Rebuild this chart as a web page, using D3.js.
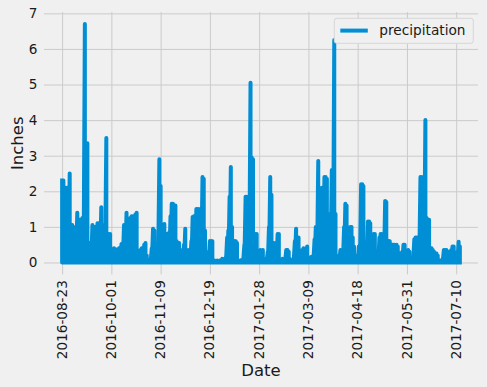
<!DOCTYPE html>
<html>
<head>
<meta charset="utf-8">
<script src="https://cdn.jsdelivr.net/npm/d3@7"></script>
<style>
  body { margin: 0; background: #f0f0f0; }
  text { font-family: "DejaVu Sans", sans-serif; fill: #1a1a1a; }
</style>
</head>
<body>
<div id="my_dataviz"></div>
<script>
// first date of the query window
const startDate = "2016-08-23";

// x tick labels and the dataframe row they sit on
const tickLabels = ["2016-08-23", "2016-10-01", "2016-11-09", "2016-12-19", "2017-01-28",
                    "2017-03-09", "2017-04-18", "2017-05-31", "2017-07-10"];
const tickRows = [0, 250, 500, 750, 1000, 1250, 1500, 1750, 2000];

const yTicks = [0, 1, 2, 3, 4, 5, 6, 7];

// wettest station reading for each day (inches), one value per day from startDate
const dailyMax = [
  2.3, 2.3, 2.1, 2.1, 2.1, 1.0, 2.5, 0.2, 1.05, 1.0,
  0.6, 0.3, 1.4, 0.4, 1.2, 1.2, 1.25, 0.5, 6.7, 0.6,
  3.35, 0.3, 0.55, 0.2, 1.05, 0.4, 1.0, 0.5, 1.1, 1.1,
  1.05, 1.55, 0.5, 1.05, 0.3, 3.5, 0.3, 0.8, 0.8, 0.05,
  0.05, 0.4, 0.38, 0.2, 0.35, 0.4, 0.42, 0.52, 0.3, 1.05,
  0.6, 1.4, 0.75, 0.3, 1.25, 1.3, 1.3, 0.6, 1.35, 1.4,
  0.25, 0.1, 0.35, 0.4, 0.3, 0.5, 0.55, 0.2, 0.05, 0.02,
  0.1, 0.4, 0.95, 0.9, 0.2, 0.45, 0.5, 2.9, 2.15, 1.05,
  1.0, 1.08, 0.6, 0.8, 0.5, 0.85, 1.3, 1.65, 1.65, 1.6,
  1.6, 0.6, 0.3, 0.55, 0.35, 0.1, 0.2, 0.5, 0.95, 0.35,
  0.1, 0.35, 0.2, 0.6, 1.28, 1.3, 0.9, 1.5, 1.5, 1.5,
  1.1, 1.2, 2.4, 2.35, 0.9, 0.1, 0.2, 0.3, 0.6, 0.6,
  0.6, 0.05, 0.05, 0.03, 0.05, 0.04, 0.05, 0.06, 0.1, 0.08,
  0.1, 0.15, 0.7, 0.9, 1.85, 2.68, 1.0, 0.6, 0.6, 0.6,
  0.55, 0.05, 0.04, 0.06, 0.05, 0.1, 0.5, 1.85, 1.85, 0.6,
  1.2, 5.05, 2.95, 2.9, 0.2, 0.8, 0.8, 0.1, 0.05, 0.35,
  0.3, 0.35, 0.1, 0.05, 0.1, 0.3, 1.0, 2.4, 1.9, 0.5,
  0.55, 0.1, 0.1, 0.8, 0.8, 0.05, 0.05, 0.1, 0.08, 0.1,
  0.35, 0.35, 0.3, 0.1, 0.05, 0.03, 0.05, 0.6, 0.95, 0.7,
  0.7, 0.2, 0.3, 0.35, 0.4, 0.3, 0.2, 0.45, 0.05, 0.1,
  0.15, 0.1, 0.2, 0.65, 1.0, 0.65, 2.85, 2.05, 2.05, 2.1,
  1.5, 2.4, 2.4, 2.35, 1.36, 0.1, 0.1, 2.6, 2.6, 6.25,
  1.36, 0.05, 0.1, 0.2, 0.35, 0.35, 0.3, 1.0, 1.65, 1.6,
  0.5, 0.3, 1.0, 1.0, 0.7, 0.45, 0.2, 0.1, 0.2, 0.45,
  0.5, 2.2, 2.2, 2.15, 0.5, 0.3, 0.1, 1.15, 1.15, 1.1,
  0.3, 0.05, 0.8, 0.8, 0.1, 0.1, 0.1, 0.7, 0.8, 0.8,
  0.8, 0.3, 1.73, 1.7, 0.6, 0.6, 0.6, 0.05, 0.5, 0.5,
  0.5, 0.45, 0.5, 0.45, 0.1, 0.25, 0.2, 0.3, 0.5, 0.5,
  0.3, 0.2, 0.35, 0.3, 0.05, 0.05, 0.15, 0.65, 0.7, 0.7,
  0.6, 0.7, 2.4, 2.4, 2.35, 1.0, 4.0, 1.25, 0.6, 1.2,
  0.4, 0.4, 0.35, 0.3, 0.2, 0.25, 0.2, 0.05, 0.05, 0.05,
  0.1, 0.35, 0.35, 0.35, 0.1, 0.3, 0.3, 0.35, 0.45, 0.45,
  0.1, 0.05, 0.3, 0.58, 0.45
];
// driest station reading for each day (most days some station reports nothing)
const dailyMin = 0;

const seriesName = "precipitation";
const color = "#008fd5";

// dimensions
const margin = {top: 12.1, right: 9, bottom: 112.6, left: 44},
  width = 487 - margin.left - margin.right,
  height = 387 - margin.top - margin.bottom;

const svg = d3.select("#my_dataviz")
  .append("svg")
    .attr("width", 487)
    .attr("height", 387)
    .style("display", "block")
    .style("background", "#f0f0f0")
  .append("g")
    .attr("transform", `translate(${margin.left},${margin.top})`);

const parse = d3.timeParse("%Y-%m-%d");
const first = parse(startDate);
const dates = dailyMax.map((v, i) => d3.timeDay.offset(first, i));

// pandas plotted against the row number, so map dates -> rows first
const rowOf = d3.scaleTime()
  .domain(tickLabels.map(parse))
  .range(tickRows);

const readings = dates.flatMap((d, i) => [
  {row: rowOf(d), value: dailyMax[i]},
  {row: rowOf(d), value: dailyMin}
]);

const lastRow = d3.max(readings, d => d.row);
const pad = 92;

const x = d3.scaleLinear()
  .domain([-pad, lastRow + pad])
  .range([0, width]);

const y = d3.scaleLinear()
  .domain([-0.335, 7.035])
  .range([height, 0]);

// y grid + labels
const yAxis = svg.append("g")
  .call(d3.axisLeft(y).tickValues(yTicks).tickSize(-width).tickPadding(6.5).tickFormat(d3.format("d")));
yAxis.select(".domain").remove();
yAxis.selectAll("line").attr("stroke", "#cbcbcb").attr("stroke-width", 1);
yAxis.selectAll("text").style("font-size", "13.6px").attr("fill", "#1a1a1a");

// x grid + labels
const xAxis = svg.append("g")
  .attr("transform", `translate(0, ${height})`)
  .call(d3.axisBottom(x)
    .tickValues(tickLabels.map(s => rowOf(parse(s))))
    .tickSize(-height)
    .tickFormat((d, i) => tickLabels[i]));
xAxis.select(".domain").remove();
xAxis.selectAll("line").attr("stroke", "#cbcbcb").attr("stroke-width", 1);
xAxis.selectAll("text")
  .style("font-size", "13.6px")
  .attr("fill", "#1a1a1a")
  .attr("transform", "rotate(-90)")
  .attr("text-anchor", "end")
  .attr("x", -5.8)
  .attr("y", 0)
  .attr("dy", "0.3em");

// the line
svg.append("path")
  .datum(readings)
  .attr("d", d3.line()
    .x(d => x(d.row))
    .y(d => y(d.value)))
  .attr("fill", "none")
  .attr("stroke", color)
  .attr("stroke-width", 4)
  .attr("stroke-linejoin", "round")
  .attr("stroke-linecap", "square");

// axis labels
svg.append("text")
  .attr("text-anchor", "middle")
  .attr("x", width / 2)
  .attr("y", height + 102)
  .style("font-size", "16.5px")
  .text("Date");

svg.append("text")
  .attr("text-anchor", "middle")
  .attr("transform", `translate(${-margin.left + 22.5}, ${height / 2}) rotate(-90)`)
  .style("font-size", "16.5px")
  .text("Inches");

// legend
const legend = svg.append("g")
  .attr("transform", `translate(${width - 4.7 - 139}, 6.2)`);
legend.append("rect")
  .attr("width", 139)
  .attr("height", 25)
  .attr("rx", 2.5)
  .attr("fill", "#f0f0f0")
  .attr("stroke", "#d6d6d6")
  .attr("stroke-width", 1);
legend.append("line")
  .attr("x1", 6).attr("x2", 33.5)
  .attr("y1", 12.3).attr("y2", 12.3)
  .attr("stroke", color)
  .attr("stroke-width", 4);
legend.append("text")
  .attr("x", 45)
  .attr("y", 12.3)
  .attr("dy", "0.35em")
  .style("font-size", "13.7px")
  .text(seriesName);
</script>
</body>
</html>
